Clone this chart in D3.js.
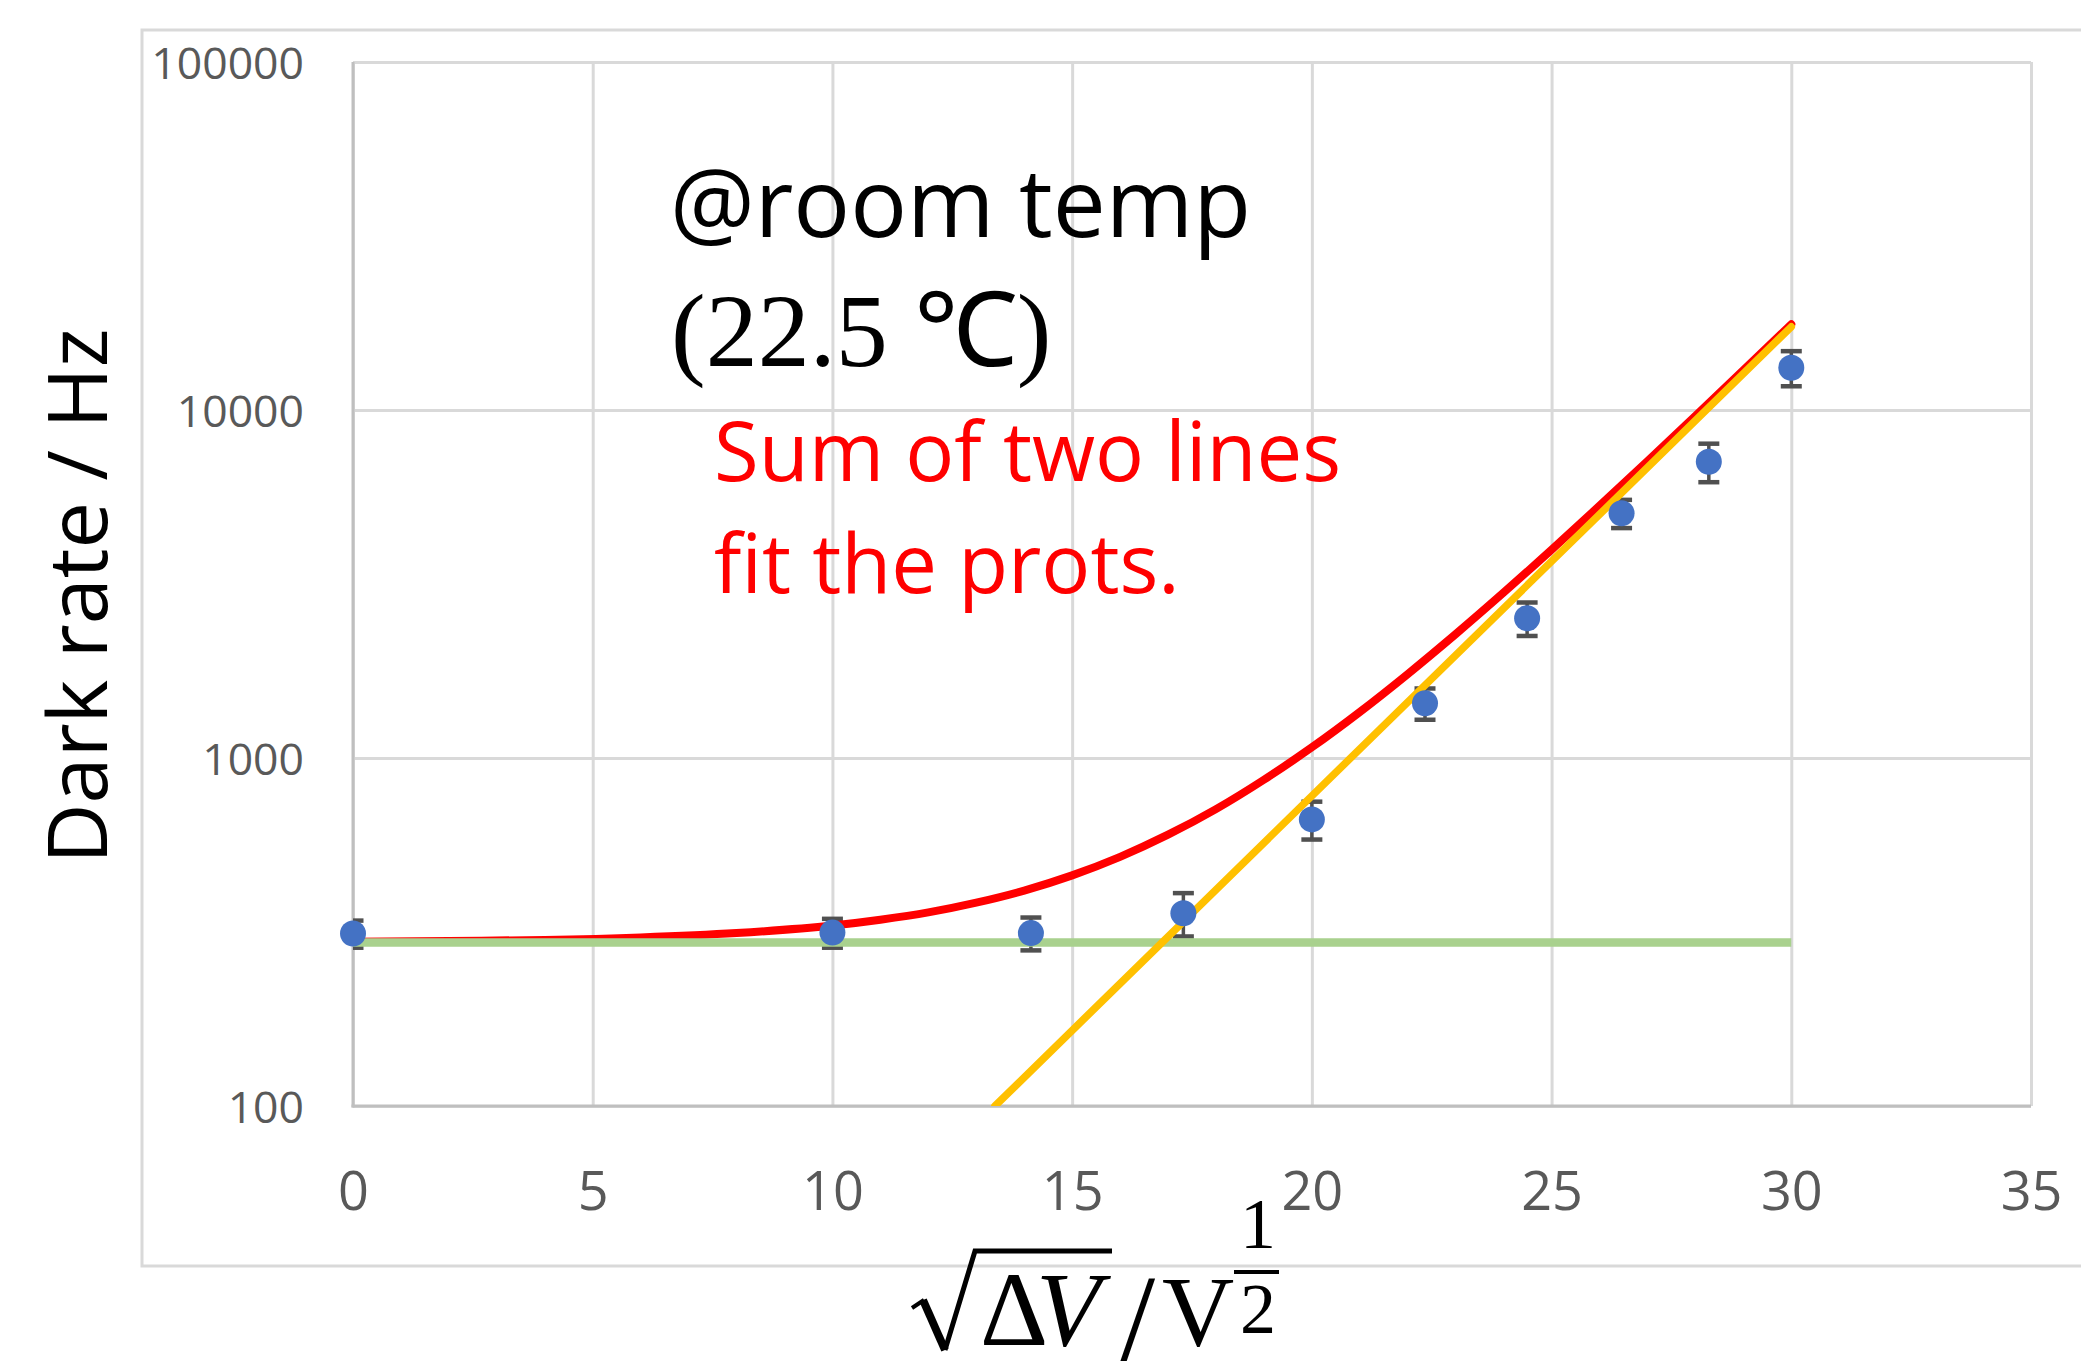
<!DOCTYPE html>
<html>
<head>
<meta charset="utf-8">
<script src="https://cdn.jsdelivr.net/npm/d3@7"></script>
<style>
  html, body { margin: 0; padding: 0; background: #fff; }
  svg { display: block; }
</style>
</head>
<body>
<svg id="chart" width="2081" height="1361"></svg>
<script>
// ---- data ----
const xTickValues = [0, 5, 10, 15, 20, 25, 30, 35];
const yTickValues = [100, 1000, 10000, 100000];
const yTickLabels = ["100", "1000", "10000", "100000"];

// measured points (x = sqrt(ΔV))
const pointX = [0, 10, 14.14, 17.32, 20, 22.36, 24.49, 26.46, 28.28, 30];
const pointY = [313, 315, 314, 358, 666, 1436, 2520, 5048, 7102, 13230];
const pointErr = [28, 30, 34, 51, 83, 148, 278, 470, 900, 1530];

// flat (green) line
const greenX = [0, 30];
const greenY = [295, 295];

// exponential (yellow) line
const yellowX = [13.39, 30];
const yellowY = [100, 17340];

// sum (red) curve
const redX = [0, 2, 4, 6, 8, 10, 11, 12, 13, 14, 15, 16, 17, 18, 19, 20, 21, 22, 23, 24, 25, 26, 27, 28, 29, 30];
const redY = [296.5, 298, 300, 305, 314, 330, 343, 360, 384, 416, 460, 520, 602, 713, 866, 1073, 1356, 1743, 2270, 2988, 3968, 5305, 7128, 9615, 13007, 17633];

// ---- layout ----
const L = 353, R = 2031, T = 62, B = 1106;
const svg = d3.select("#chart");

svg.append("rect").attr("width", 2081).attr("height", 1361).attr("fill", "#fff");

// outer chart frame
svg.append("rect")
  .attr("x", 142).attr("y", 30).attr("width", 2100).attr("height", 1236)
  .attr("fill", "none").attr("stroke", "#D9D9D9").attr("stroke-width", 3);

const x = d3.scaleLinear().domain([0, 35]).range([L, R]);
const y = d3.scaleLog().domain([100, 100000]).range([B, T]);

// grid + x labels
const gx = svg.append("g").attr("transform", `translate(0,${B})`)
  .call(d3.axisBottom(x).tickValues(xTickValues).tickSize(-(B - T)).tickFormat(d3.format("d")));
gx.select(".domain").remove();
gx.selectAll(".tick line").attr("stroke", "#D9D9D9").attr("stroke-width", 3);
gx.selectAll(".tick text")
  .attr("y", 104).attr("dy", 0)
  .attr("fill", "#595959")
  .style("font-family", "'Open Sans', sans-serif").style("font-size", "54px");

const gy = svg.append("g").attr("transform", `translate(${L},0)`)
  .call(d3.axisLeft(y).tickValues(yTickValues).tickSize(-(R - L))
    .tickFormat((d, i) => yTickLabels[i]).tickPadding(49));
gy.select(".domain").remove();
gy.selectAll(".tick line").attr("stroke", "#D9D9D9").attr("stroke-width", 3);
gy.selectAll(".tick text")
  .attr("fill", "#595959")
  .attr("dy", "0.36em")
  .style("font-family", "'Open Sans', sans-serif").style("font-size", "44.5px");

// axis lines
svg.append("line").attr("x1", L).attr("x2", L).attr("y1", T).attr("y2", B + 1.5)
  .attr("stroke", "#BFBFBF").attr("stroke-width", 3);
svg.append("line").attr("x1", L - 1.5).attr("x2", R).attr("y1", B).attr("y2", B)
  .attr("stroke", "#BFBFBF").attr("stroke-width", 3);

// clip
svg.append("clipPath").attr("id", "plotclip")
  .append("rect").attr("x", L).attr("y", T).attr("width", R - L).attr("height", B - T);

const pts = pointX.map((v, i) => ({ x: v, y: pointY[i], e: pointErr[i] }));

// error bars
const eb = svg.append("g").attr("clip-path", "url(#plotclip)")
  .attr("stroke", "#505050").attr("fill", "none");
eb.selectAll("line.v").data(pts).join("line").attr("class", "v")
  .attr("x1", d => x(d.x)).attr("x2", d => x(d.x))
  .attr("y1", d => y(d.y + d.e)).attr("y2", d => y(d.y - d.e))
  .attr("stroke-width", 3.5);
eb.selectAll("line.t").data(pts).join("line").attr("class", "t")
  .attr("x1", d => x(d.x) - 10.5).attr("x2", d => x(d.x) + 10.5)
  .attr("y1", d => y(d.y + d.e)).attr("y2", d => y(d.y + d.e))
  .attr("stroke-width", 4.5);
eb.selectAll("line.b").data(pts).join("line").attr("class", "b")
  .attr("x1", d => x(d.x) - 10.5).attr("x2", d => x(d.x) + 10.5)
  .attr("y1", d => y(d.y - d.e)).attr("y2", d => y(d.y - d.e))
  .attr("stroke-width", 4.5);

// lines
const lineSmooth = d3.line().x(d => x(d[0])).y(d => y(d[1])).curve(d3.curveMonotoneX);
const lineStraight = d3.line().x(d => x(d[0])).y(d => y(d[1]));
const lines = svg.append("g").attr("clip-path", "url(#plotclip)").attr("fill", "none").attr("stroke-linecap", "round");

lines.append("path").datum(redX.map((v, i) => [v, redY[i]]))
  .attr("d", lineSmooth).attr("stroke", "#FF0000").attr("stroke-width", 8);
lines.append("path").datum(greenX.map((v, i) => [v, greenY[i]]))
  .attr("d", lineStraight).attr("stroke", "#A9D18E").attr("stroke-width", 8.5).attr("stroke-linecap", "butt");
lines.append("path").datum(yellowX.map((v, i) => [v, yellowY[i]]))
  .attr("d", lineStraight).attr("stroke", "#FFC000").attr("stroke-width", 7.5);

// markers
svg.append("g").selectAll("circle").data(pts).join("circle")
  .attr("cx", d => x(d.x)).attr("cy", d => y(d.y)).attr("r", 13)
  .attr("fill", "#4472C4");

// annotations
const sans = "'Open Sans', sans-serif";
svg.append("text").attr("x", 670).attr("y", 237)
  .style("font-family", sans).style("font-size", "94.5px").attr("fill", "#000")
  .text("@room temp");
svg.append("text").attr("x", 671).attr("y", 366)
  .style("font-family", "'Liberation Serif', serif").style("font-size", "104px").attr("fill", "#000")
  .text("(22.5 ℃)");
svg.append("text").attr("x", 714).attr("y", 481)
  .style("font-family", sans).style("font-size", "81.5px").attr("fill", "#FF0000")
  .text("Sum of two lines");
svg.append("text").attr("x", 714).attr("y", 593)
  .style("font-family", sans).style("font-size", "81.5px").attr("fill", "#FF0000")
  .text("fit the prots.");

// y axis title
svg.append("text")
  .attr("transform", "translate(107,596) rotate(-90)")
  .attr("text-anchor", "middle")
  .style("font-family", sans).style("font-size", "83px").attr("fill", "#000")
  .text("Dark rate / Hz");

// x axis title: √ΔV / V^(1/2)
const xt = svg.append("g").attr("fill", "#000");
const serif = "'Liberation Serif', 'DejaVu Serif', serif";
xt.append("path")
  .attr("d", "M912,1308 L924,1300")
  .attr("stroke", "#000").attr("stroke-width", 4).attr("fill", "none");
xt.append("path")
  .attr("d", "M923,1300 L945,1350")
  .attr("stroke", "#000").attr("stroke-width", 8).attr("fill", "none");
xt.append("path")
  .attr("d", "M945,1350 L975,1251 L1112,1251")
  .attr("stroke", "#000").attr("stroke-width", 5).attr("fill", "none").attr("stroke-linejoin", "miter");
const main = xt.append("text").attr("x", 980).attr("y", 1345)
  .style("font-family", serif).style("font-size", "106px");
main.append("tspan").text("Δ");
main.append("tspan").attr("x", 1036).style("font-style", "italic").text("V");
main.append("tspan").attr("x", 1119).attr("dy", 19).style("font-size", "130px").text("/");
main.append("tspan").attr("x", 1162).attr("dy", -19).style("font-size", "100px").text("V");
xt.append("text").attr("x", 1240).attr("y", 1248)
  .style("font-family", serif).style("font-size", "72px").text("1");
xt.append("line").attr("x1", 1234).attr("x2", 1279).attr("y1", 1272).attr("y2", 1272)
  .attr("stroke", "#000").attr("stroke-width", 4);
xt.append("text").attr("x", 1240).attr("y", 1333)
  .style("font-family", serif).style("font-size", "72px").text("2");
</script>
</body>
</html>
